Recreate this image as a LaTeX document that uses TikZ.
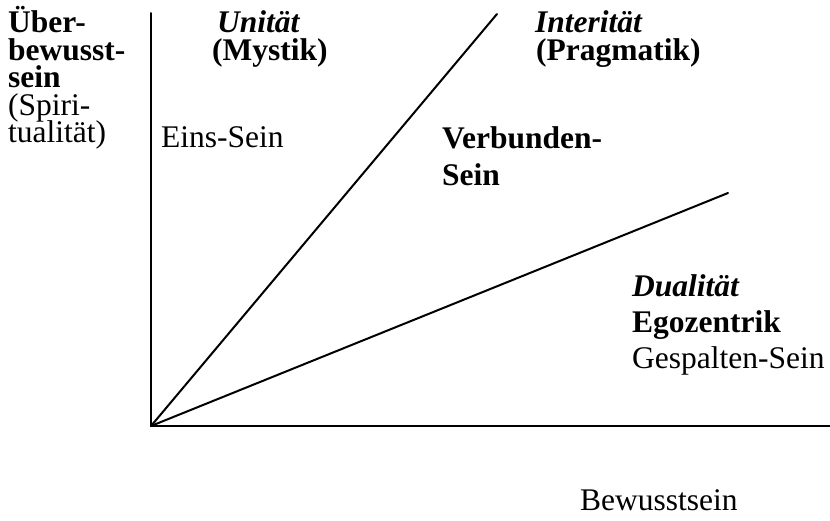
\documentclass[tikz,border=0pt]{standalone}
\usepackage{fontspec}
\setmainfont{Liberation Serif}
\tikzset{
  txt/.style={anchor=base west, inner sep=0pt, font=\fontsize{31.5}{36}\selectfont},
  txtb/.style={txt, font=\fontsize{31.5}{36}\selectfont\bfseries},
  txtbi/.style={txt, font=\fontsize{31.5}{36}\selectfont\bfseries\itshape},
  axis/.style={line width=2pt, line cap=round},
}
\begin{document}
\begin{tikzpicture}[x=1pt, y=-1pt]
\useasboundingbox (0,0) rectangle (830,520);
% axes and rays
\coordinate (O) at (151,426);
\coordinate (ytop) at (151,13);
\coordinate (xend) at (830,426);
\coordinate (r1) at (497,14);
\coordinate (r2) at (728,193);
\draw[axis] (O) -- (ytop);
\draw[axis] (O) -- (xend);
\draw[axis] (O) -- (r1);
\draw[axis] (O) -- (r2);
% left column
\node[txtb] (l1) at (8,32) {Über-};
\node[txtb] (l2) at (8,60) {bewusst-};
\node[txtb] (l3) at (8,87) {sein};
\node[txt]  (l4) at (8,115) {(Spiri-};
\node[txt]  (l5) at (8,142) {tualität)};
% Unität
\node[txtbi] (u1) at (217,32) {Unität};
\node[txtb]  (u2) at (212,60) {(Mystik)};
\node[txt]   (u3) at (161,147) {Eins-Sein};
% Interität
\node[txtbi] (i1) at (535,32) {Interität};
\node[txtb]  (i2) at (536,60) {(Pragmatik)};
\node[txtb]  (v1) at (442,148) {Verbunden-};
\node[txtb]  (v2) at (442,185) {Sein};
% Dualität
\node[txtbi] (d1) at (632,296) {Dualität};
\node[txtb]  (d2) at (632,332) {Egozentrik};
\node[txt]   (d3) at (632,368) {Gespalten-Sein};
% x axis label
\node[txt] (bw) at (580,510) {Bewusstsein};
\end{tikzpicture}
\end{document}
